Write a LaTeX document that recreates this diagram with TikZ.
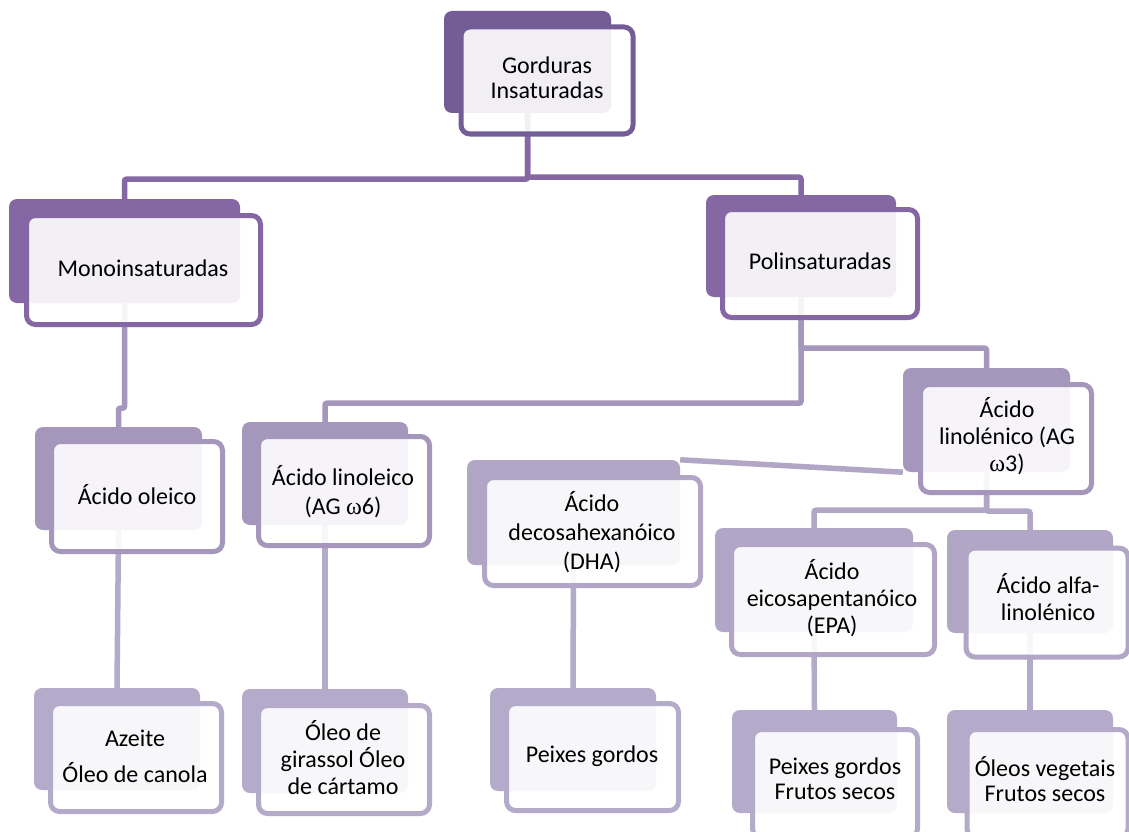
\documentclass[tikz,border=0pt]{standalone}
\usepackage{fontspec}
\setmainfont{Carlito}
\newfontfamily\grk{Liberation Serif}
\definecolor{lvA}{HTML}{745D97}
\definecolor{lvB}{HTML}{8467A3}
\definecolor{lvC}{HTML}{A596BC}
\definecolor{lvD}{HTML}{B1A6C6}
\definecolor{lvE}{HTML}{B4AAC9}
\tikzset{
  back/.style={rectangle, rounded corners=8pt, draw=none, inner sep=0pt},
  front/.style={rectangle, rounded corners=9pt, line width=5pt, fill=white, fill opacity=0.9, inner sep=0pt},
  txt/.style={align=center, inner sep=0pt, text=black, font=\fontsize{24pt}{#1pt}\selectfont},
  txt/.default=29,
  link/.style={line width=5.5pt, rounded corners=2pt}
}
\begin{document}
\begin{tikzpicture}[x=1pt, y=-1pt]
\useasboundingbox (0,0) rectangle (1129,832);
\fill[white] (0,0) rectangle (1129,832);
\clip (0,0) rectangle (1129,832);

% back plates
\node[back, fill=lvA, minimum width=167pt, minimum height=102pt] (gB)  at (527.5,62)   {};
\node[back, fill=lvB, minimum width=231pt, minimum height=104pt] (mB)  at (124.5,251)  {};
\node[back, fill=lvB, minimum width=190pt, minimum height=102pt] (pB)  at (801,246)    {};
\node[back, fill=lvC, minimum width=167pt, minimum height=103pt] (oB)  at (118.5,478.5){};
\node[back, fill=lvC, minimum width=166pt, minimum height=103pt] (lB)  at (325,473.5)  {};
\node[back, fill=lvC, minimum width=167pt, minimum height=104pt] (nB)  at (986.5,420)  {};
\node[back, fill=lvD, minimum width=213pt, minimum height=105pt] (dB)  at (573.5,512.5){};
\node[back, fill=lvD, minimum width=198pt, minimum height=104pt] (eB)  at (814,580)    {};
\node[back, fill=lvD, minimum width=166pt, minimum height=103pt] (aB)  at (1030,581.5) {};
\node[back, fill=lvE, minimum width=166pt, minimum height=102pt] (zB)  at (117,739)    {};
\node[back, fill=lvE, minimum width=166pt, minimum height=104pt] (sB)  at (325,741)    {};
\node[back, fill=lvE, minimum width=166pt, minimum height=103pt] (pdB) at (573,739.5)  {};
\node[back, fill=lvE, minimum width=165pt, minimum height=103pt] (peB) at (814.5,761.5){};
\node[back, fill=lvE, minimum width=166pt, minimum height=103pt] (vB)  at (1030,761.5) {};

% connectors
\draw[link, lvB] (gB.south) -- ++(0,66) -| (mB.north);
\draw[link, lvB] (gB.south) -- ++(0,64) -| (pB.north);
\draw[link, lvC] (mB.south) -- ++(0,105) -| (oB.north);
\draw[link, lvC] (pB.south) -- ++(0,106) -| (lB.north);
\draw[link, lvC] (pB.south) -- ++(0,51) -| (nB.north);
\draw[link, lvD] (dB.north east) -- (nB.south west);
\draw[link, lvD] (nB.south) -- ++(0,38) -| (eB.north);
\draw[link, lvD] (nB.south) -- ++(0,39) -| (aB.north);
\draw[link, lvE] (oB.south) -- (zB.north);
\draw[link, lvE] (lB.south) -- (sB.north);
\draw[link, lvE] (dB.south) -- (pdB.north);
\draw[link, lvE] (eB.south) -- (peB.north);
\draw[link, lvE] (aB.south) -- (vB.north);

% front plates
\node[front, draw=lvA, minimum width=172pt, minimum height=107pt] (gF)  at (547,80.5)   {};
\node[front, draw=lvB, minimum width=234pt, minimum height=109pt] (mF)  at (143.5,270)  {};
\node[front, draw=lvB, minimum width=195pt, minimum height=108pt] (pF)  at (820,263.5)  {};
\node[front, draw=lvC, minimum width=171pt, minimum height=110pt] (oF)  at (137,496.5)  {};
\node[front, draw=lvC, minimum width=171pt, minimum height=109pt] (lF)  at (344,491)    {};
\node[front, draw=lvC, minimum width=171pt, minimum height=108pt] (nF)  at (1006,438.5) {};
\node[front, draw=lvD, minimum width=216pt, minimum height=108pt] (dF)  at (592.5,531.5){};
\node[front, draw=lvD, minimum width=203pt, minimum height=110pt] (eF)  at (833,599.5)  {};
\node[front, draw=lvD, minimum width=162pt, minimum height=109pt] (aF)  at (1047,602.5) {};
\node[front, draw=lvE, minimum width=171pt, minimum height=108pt] (zF)  at (136,757.5)  {};
\node[front, draw=lvE, minimum width=171pt, minimum height=108pt] (sF)  at (344,759.5)  {};
\node[front, draw=lvE, minimum width=172pt, minimum height=107pt] (pdF) at (592.5,757)  {};
\node[front, draw=lvE, minimum width=165pt, minimum height=108pt] (peF) at (835,783.5)  {};
\node[front, draw=lvE, minimum width=161pt, minimum height=108pt] (vF)  at (1047.5,783.5){};

% labels
\node[txt=25] (gT)  at (547,78)    {Gorduras\\Insaturadas};
\node[txt]    (mT)  at (143,268)   {Monoinsaturadas};
\node[txt]    (pT)  at (820,261)   {Polinsaturadas};
\node[txt]    (oT)  at (137,495)   {Ácido oleico};
\node[txt=29] (lT)  at (343,492)   {Ácido linoleico\\(AG {\grk ω}6)};
\node[txt=27] (nT)  at (1007,436)  {Ácido\\linolénico (AG\\{\grk ω}3)};
\node[txt=29] (dT)  at (592,532)   {Ácido\\decosahexanóico\\(DHA)};
\node[txt=27] (eT)  at (832,598)   {Ácido\\eicosapentanóico\\(EPA)};
\node[txt=27] (aT)  at (1048,597)  {Ácido alfa-\\linolénico};
\node[txt=36] (zT)  at (135,756)   {Azeite\\Óleo de canola};
\node[txt=27] (sT)  at (343,758)   {Óleo de\\girassol Óleo\\de cártamo};
\node[txt]    (pdT) at (592,756)   {Peixes gordos};
\node[txt=25] (peT) at (835,779)   {Peixes gordos\\Frutos secos};
\node[txt=25] (vT)  at (1045,779)  {Óleos vegetais\\Frutos secos};
\end{tikzpicture}
\end{document}
